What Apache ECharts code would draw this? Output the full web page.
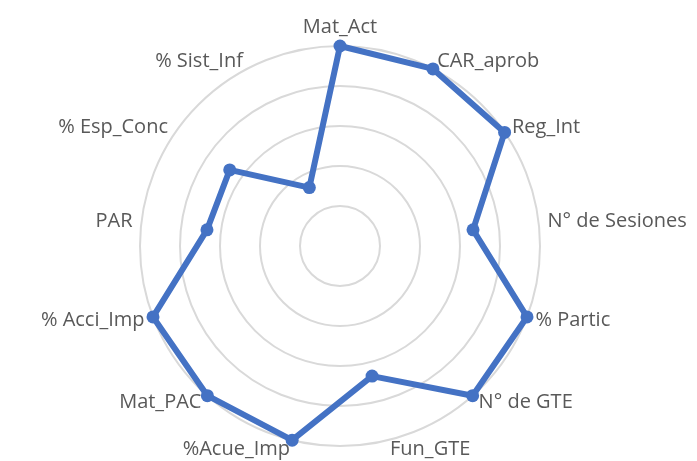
<!DOCTYPE html>
<html lang="es">

<head>
	<meta charset="utf-8">
	<title>Radar</title>
	<script src="https://cdn.jsdelivr.net/npm/echarts@6/dist/echarts.min.js"></script>
	<style>
		html, body { margin: 0; padding: 0; background: #fff; }
		#panel { width: 697px; height: 461px; }
	</style>
</head>

<body>
	<div id="panel"></div>
	<script type="text/javascript">
		// ejes en el orden del gráfico (sentido horario desde arriba)
		const indicadores = ["Mat_Act", "CAR_aprob", "Reg_Int", "N° de Sesiones", "% Partic", "N° de GTE",
			"Fun_GTE", "%Acue_Imp", "Mat_PAC", "% Acci_Imp", "PAR", "% Esp_Conc", "% Sist_Inf"];
		const valores = [1, 1, 1, 0.67, 1, 1, 0.67, 1, 1, 1, 0.67, 0.67, 0.33];
		const maximo = 1;

		// echarts coloca los ejes en sentido antihorario: se invierte el orden después del primero
		const orden = [0].concat(indicadores.map((n, i) => i).slice(1).reverse());

		const panel = echarts.init(document.getElementById("panel"));
		let option = {
			animation: false,
			radar: {
				center: [340, 246],
				radius: 200,
				startAngle: 90,
				shape: 'circle',
				splitNumber: 5,
				indicator: orden.map(i => ({ name: indicadores[i], min: 0, max: maximo })),
				axisName: {
					color: '#595959',
					fontSize: 20,
					fontFamily: 'Open Sans'
				},
				nameGap: 9,
				axisLine: { show: false },
				axisTick: { show: false },
				axisLabel: { show: false },
				splitArea: { show: false },
				splitLine: {
					lineStyle: { color: '#d9d9d9', width: 2 }
				}
			},
			series: [{
				type: 'radar',
				symbol: 'circle',
				symbolSize: 13,
				lineStyle: { color: '#4472C4', width: 6 },
				itemStyle: { color: '#4472C4' },
				data: [{ value: orden.map(i => valores[i]) }]
			}]
		};
		panel.setOption(option);
	</script>
</body>

</html>
